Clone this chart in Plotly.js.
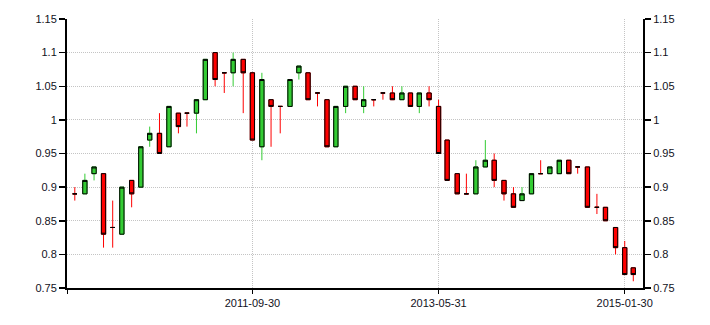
<!DOCTYPE html>
<html>
<head>
<meta charset="utf-8">
<script src="https://cdn.plot.ly/plotly-3.0.1.min.js"></script>
<style>
html,body{margin:0;padding:0;background:#fff;}
#chart{width:710px;height:325px;}
</style>
</head>
<body>
<div id="chart"></div>
<script>
// Monthly candles (last business day of month)
var dates = [
 '2010-02-26','2010-03-31','2010-04-30','2010-05-31','2010-06-30','2010-07-30','2010-08-31','2010-09-30','2010-10-29','2010-11-30','2010-12-31',
 '2011-01-31','2011-02-28','2011-03-31','2011-04-29','2011-05-31','2011-06-30','2011-07-29','2011-08-31','2011-09-30','2011-10-31','2011-11-30','2011-12-30',
 '2012-01-31','2012-02-29','2012-03-30','2012-04-30','2012-05-31','2012-06-29','2012-07-31','2012-08-31','2012-09-28','2012-10-31','2012-11-30','2012-12-31',
 '2013-01-31','2013-02-28','2013-03-29','2013-04-30','2013-05-31','2013-06-28','2013-07-31','2013-08-30','2013-09-30','2013-10-31','2013-11-29','2013-12-31',
 '2014-01-31','2014-02-28','2014-03-31','2014-04-30','2014-05-30','2014-06-30','2014-07-31','2014-08-29','2014-09-30','2014-10-31','2014-11-28','2014-12-31',
 '2015-01-30','2015-02-27'
];
var openVals = [
 0.89,0.89,0.92,0.92,0.84,0.83,0.91,0.90,0.97,0.98,0.96,
 1.01,1.01,1.01,1.03,1.10,1.07,1.07,1.09,1.07,0.96,1.03,1.02,
 1.02,1.07,1.07,1.04,1.03,0.96,1.02,1.05,1.02,1.03,1.04,1.04,
 1.03,1.04,1.02,1.04,1.02,0.97,0.92,0.89,0.89,0.93,0.94,0.91,
 0.89,0.88,0.89,0.92,0.92,0.92,0.94,0.93,0.93,0.87,0.87,0.84,
 0.81,0.78
];
var highVals = [
 0.90,0.92,0.93,0.92,0.88,0.90,0.91,0.96,0.99,1.01,1.02,
 1.01,1.01,1.03,1.09,1.10,1.07,1.10,1.09,1.07,1.07,1.03,1.02,
 1.06,1.08,1.07,1.04,1.03,1.02,1.05,1.05,1.05,1.03,1.04,1.05,
 1.05,1.04,1.04,1.05,1.03,0.97,0.92,0.92,0.94,0.97,0.95,0.91,
 0.90,0.90,0.92,0.94,0.93,0.94,0.94,0.93,0.93,0.89,0.87,0.84,
 0.82,0.78
];
var lowVals = [
 0.88,0.89,0.91,0.81,0.81,0.83,0.87,0.90,0.96,0.95,0.96,
 0.98,0.99,0.98,1.03,1.05,1.04,1.05,1.01,0.97,0.94,0.96,0.98,
 1.02,1.06,1.03,1.02,0.96,0.96,1.01,1.03,1.01,1.02,1.03,1.03,
 1.03,1.02,1.01,1.02,0.95,0.91,0.89,0.89,0.89,0.93,0.90,0.88,
 0.87,0.88,0.89,0.92,0.92,0.92,0.92,0.92,0.87,0.86,0.85,0.80,
 0.77,0.76
];
var closeVals = [
 0.89,0.91,0.93,0.83,0.84,0.90,0.89,0.96,0.98,0.95,1.02,
 0.99,1.01,1.03,1.09,1.06,1.07,1.09,1.07,0.97,1.06,1.02,1.02,
 1.06,1.08,1.03,1.04,0.96,1.02,1.05,1.03,1.03,1.03,1.04,1.03,
 1.04,1.02,1.04,1.03,0.95,0.91,0.89,0.89,0.93,0.94,0.91,0.89,
 0.87,0.89,0.92,0.92,0.93,0.94,0.92,0.93,0.87,0.87,0.85,0.81,
 0.77,0.77
];
var yTickVals = [0.75,0.8,0.85,0.9,0.95,1,1.05,1.1,1.15];
var yTickText = ['0.75','0.8','0.85','0.9','0.95','1','1.05','1.1','1.15'];
var xTickVals = ['2010-01-31 12:00','2011-09-30','2013-05-31','2015-01-30'];
var xTickText = ['','2011-09-30','2013-05-31','2015-01-30'];

var GREEN = '#33cc33', RED = '#ff0000';

function subset(pred){
  var o={x:[],open:[],high:[],low:[],close:[]};
  for(var i=0;i<dates.length;i++){
    if(pred(i)){
      o.x.push(dates[i]);o.open.push(openVals[i]);o.high.push(highVals[i]);
      o.low.push(lowVals[i]);o.close.push(closeVals[i]);
    }
  }
  return o;
}
function wickTrace(d,color){
  return {type:'candlestick',x:d.x,open:d.open,high:d.high,low:d.low,close:d.close,
    increasing:{line:{color:color,width:1},fillcolor:color},
    decreasing:{line:{color:color,width:1},fillcolor:color},
    whiskerwidth:0,hoverinfo:'skip',showlegend:false,xaxis:'x',yaxis:'y'};
}
var up = subset(function(i){return closeVals[i]>openVals[i];});
var dn = subset(function(i){return closeVals[i]<=openVals[i];});

var bodyHigh = openVals.map(function(v,i){return Math.max(v,closeVals[i]);});
var bodyLow = openVals.map(function(v,i){return Math.min(v,closeVals[i]);});
var bodies = {type:'candlestick',x:dates,open:openVals,high:bodyHigh,low:bodyLow,close:closeVals,
  increasing:{line:{color:'#000000',width:1},fillcolor:GREEN},
  decreasing:{line:{color:'#000000',width:1},fillcolor:RED},
  whiskerwidth:0,hoverinfo:'skip',showlegend:false,xaxis:'x',yaxis:'y'};

var axisFont = {family:'Liberation Sans, Arial, sans-serif',size:11,color:'#111122'};
var layout = {
  width:710,height:325,
  margin:{l:67,r:67,t:18.5,b:37,pad:0},
  paper_bgcolor:'#ffffff',plot_bgcolor:'#ffffff',
  showlegend:false,hovermode:false,
  boxgap:0.5,boxgroupgap:0,boxmode:'overlay',
  xaxis:{type:'date',range:['2010-01-31 12:00','2015-03-30 18:00'],
    rangeslider:{visible:false},
    tickmode:'array',tickvals:xTickVals,ticktext:xTickText,
    ticks:'outside',ticklen:4,tickwidth:1,tickcolor:'#000',
    showline:true,linecolor:'#000',linewidth:2,
    showgrid:true,gridcolor:'#c4c4c4',griddash:'1px,1px',gridwidth:1,
    zeroline:false,tickfont:axisFont,fixedrange:true},
  yaxis:{range:[0.75,1.15],tickmode:'array',tickvals:yTickVals,ticktext:yTickText,
    ticks:'outside',ticklen:6,tickwidth:1.5,tickcolor:'#000',
    showline:true,linecolor:'#000',linewidth:2,
    showgrid:true,gridcolor:'#c4c4c4',griddash:'1px,1px',gridwidth:1,
    zeroline:false,tickfont:axisFont,fixedrange:true},
  yaxis2:{range:[0.75,1.15],overlaying:'y',side:'right',anchor:'x',
    tickmode:'array',tickvals:yTickVals,ticktext:yTickText,
    ticks:'outside',ticklen:6,tickwidth:1.5,tickcolor:'#000',
    showline:true,linecolor:'#000',linewidth:2,
    showgrid:false,zeroline:false,tickfont:axisFont,fixedrange:true}
};
var dummy = {type:'scatter',x:[dates[0]],y:[0.9],yaxis:'y2',mode:'markers',
  marker:{opacity:0,size:1},hoverinfo:'skip',showlegend:false};

Plotly.newPlot('chart',[wickTrace(up,GREEN),wickTrace(dn,RED),bodies,dummy],layout,
  {staticPlot:true,displayModeBar:false});
</script>
</body>
</html>
